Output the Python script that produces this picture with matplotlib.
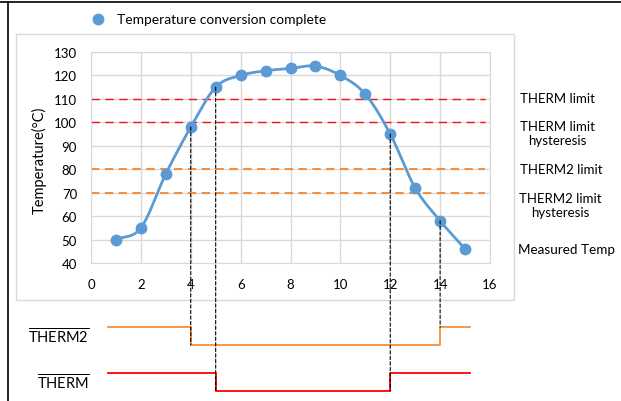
import numpy as np
import matplotlib
matplotlib.use("Agg")
import matplotlib.pyplot as plt
from matplotlib.patches import Rectangle, ConnectionPatch
from matplotlib.lines import Line2D

plt.rcParams['font.family'] = ['Lato', 'DejaVu Sans']
plt.rcParams['mathtext.fontset'] = 'custom'
plt.rcParams['mathtext.rm'] = 'Lato'

# measured temperature samples
sample_x = [1, 2, 3, 4, 5, 6, 7, 8, 9, 10, 11, 12, 13, 14, 15]
temps = [50, 55, 78, 98, 115, 120, 122, 123, 124, 120, 112, 95, 72, 58, 46]

# limit lines
therm_lines = [110, 100]
therm2_lines = [80, 70]

# switching events (sample index where the output changes)
therm2_edges = [4, 14]
therm_edges = [5, 12]
signal_start = 0.68
signal_end = 15.18

W, H = 621, 402


def fx(px):
    return px / W


def fy(py):
    return 1 - py / H


# smoothed line like Excel (bezier through the points)
def smooth(xs, ys, n=20):
    xs = np.asarray(xs, float)
    ys = np.asarray(ys, float)
    px = np.concatenate([[2 * xs[0] - xs[1]], xs, [2 * xs[-1] - xs[-2]]])
    py = np.concatenate([[2 * ys[0] - ys[1]], ys, [2 * ys[-1] - ys[-2]]])
    out_x, out_y = [], []
    t = np.linspace(0, 1, n)
    for i in range(1, len(px) - 2):
        p0 = np.array([px[i], py[i]])
        p3 = np.array([px[i + 1], py[i + 1]])
        p1 = p0 + (p3 - np.array([px[i - 1], py[i - 1]])) / 6
        p2 = p3 - (np.array([px[i + 2], py[i + 2]]) - p0) / 6
        b = ((1 - t) ** 3)[:, None] * p0 + (3 * (1 - t) ** 2 * t)[:, None] * p1 \
            + (3 * (1 - t) * t ** 2)[:, None] * p2 + (t ** 3)[:, None] * p3
        out_x.extend(b[:, 0])
        out_y.extend(b[:, 1])
    return out_x, out_y


fig = plt.figure(figsize=(W / 100, H / 100), dpi=100)

# chart area border
fig.patches.append(Rectangle((fx(16), fy(301)), fx(514) - fx(16), fy(35) - fy(301),
                             transform=fig.transFigure, fill=False,
                             edgecolor='#d9d9d9', lw=1))
# frame of the page
fig.add_artist(Line2D([0, 1], [fy(3), fy(3)], color='black', lw=1.2))
fig.add_artist(Line2D([fx(8), fx(8)], [0, fy(3)], color='black', lw=1.2))

ax = fig.add_axes([fx(91), fy(264), fx(490) - fx(91), fy(53) - fy(264)])
ax.set_xlim(0, 16)
ax.set_ylim(40, 130)
ax.set_xticks(range(0, 17, 2))
ax.set_yticks(range(40, 131, 10))
ax.grid(True, color='#d9d9d9', lw=1)
ax.set_axisbelow(True)
ax.tick_params(length=0, labelsize=9.5, pad=10)
ax.tick_params(axis='x', pad=11)
for s in ax.spines.values():
    s.set_color('#d9d9d9')
ax.set_ylabel('Temperature(°C)', fontsize=10.5)
ax.yaxis.set_label_coords(fx(47), fy(160), transform=fig.transFigure)

for v in therm_lines:
    ax.plot([0, 15.8], [v, v], color='#ff1010', lw=1, dashes=(6, 4))
for v in therm2_lines:
    ax.plot([0, 15.8], [v, v], color='#ff7a14', lw=1.2, dashes=(5, 3.3))

cx, cy = smooth(sample_x, temps)
ax.plot(cx, cy, color='#5b9bd5', lw=2, zorder=3)
ax.plot(sample_x, temps, 'o', color='#5b9bd5', ms=7.5, zorder=4)

# legend
fig.add_artist(Line2D([fx(98)], [fy(20)], marker='o', color='#5b9bd5', ms=7.5))
fig.text(fx(117), fy(20), 'Temperature conversion complete', fontsize=9.9, va='center')

# right labels
fig.text(fx(520), fy(99), 'THERM limit', fontsize=9.5, va='center')
fig.text(fx(557), fy(134), 'THERM limit\nhysteresis', fontsize=9.5, va='center', ha='center',
         linespacing=1.15)
fig.text(fx(520), fy(170), 'THERM2 limit', fontsize=9.5, va='center')
fig.text(fx(560), fy(206), 'THERM2 limit\nhysteresis', fontsize=9.5, va='center', ha='center',
         linespacing=1.15)
fig.text(fx(518), fy(250), 'Measured Temp', fontsize=9.7, va='center')

# digital outputs
sx = fig.add_axes([fx(91), fy(400), fx(490) - fx(91), fy(320) - fy(400)], sharex=ax)
sx.set_ylim(0, 1)
sx.axis('off')
t2_hi, t2_lo = 0.9, 0.675
t_hi, t_lo = 0.325, 0.1

sx.plot([signal_start, therm2_edges[0], therm2_edges[0], therm2_edges[1], therm2_edges[1], signal_end],
        [t2_hi, t2_hi, t2_lo, t2_lo, t2_hi, t2_hi], color='#f5913a', lw=1.3, clip_on=False)
sx.plot([signal_start, therm_edges[0], therm_edges[0], therm_edges[1], therm_edges[1], signal_end],
        [t_hi, t_hi, t_lo, t_lo, t_hi, t_hi], color='#ff0000', lw=1.3, clip_on=False)

sx.text(-0.05, 0.79, r'$\overline{\mathrm{THERM2}}$', fontsize=10.5, ha='right', va='center')
sx.text(-0.05, 0.21, r'$\overline{\mathrm{THERM}}$', fontsize=10.5, ha='right', va='center')

# dashed drop lines from the samples to the outputs
drops = [(therm2_edges[0], t2_lo), (therm_edges[0], t_lo),
         (therm_edges[1], t_lo), (therm2_edges[1], t2_hi)]
for xe, lvl in drops:
    con = ConnectionPatch((xe, temps[sample_x.index(xe)]), (xe, lvl), 'data', 'data',
                          axesA=ax, axesB=sx, color='black', lw=0.8, ls=(0, (3, 2)),
                          zorder=2)
    fig.add_artist(con)

fig.savefig('out.png', dpi=100)
